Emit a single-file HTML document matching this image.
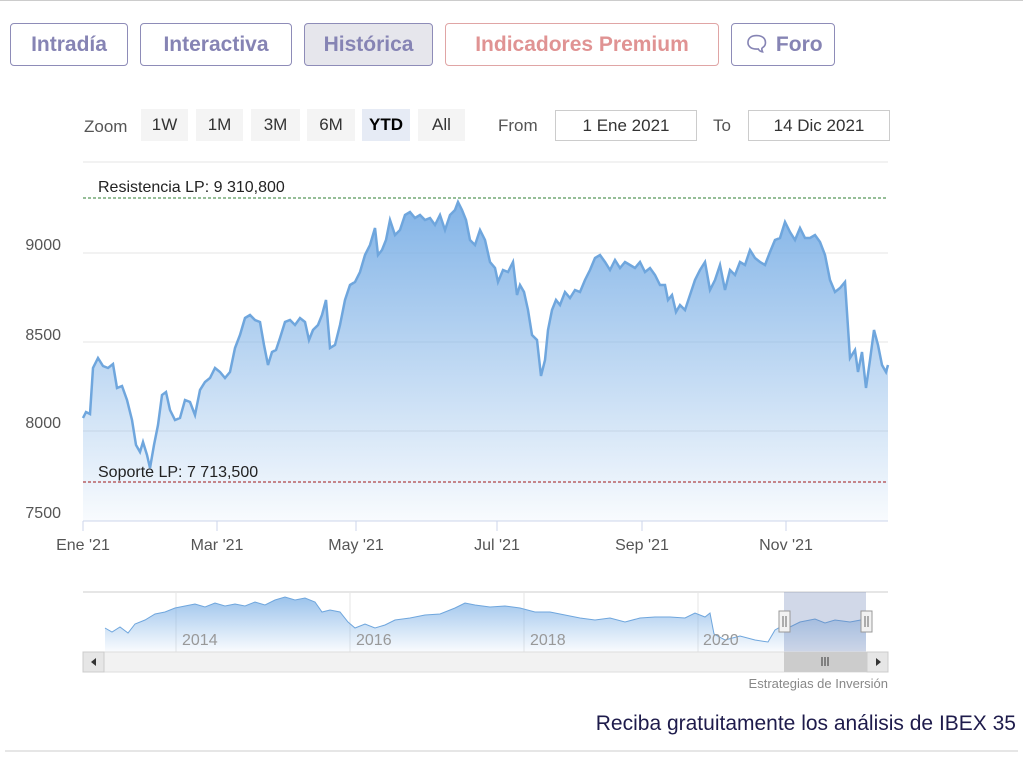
<!DOCTYPE html>
<html><head><meta charset="utf-8"><style>
body{margin:0;width:1023px;height:775px;background:#fff;position:relative;overflow:hidden;font-family:"Liberation Sans",sans-serif}
.b{position:absolute;top:23px;height:43px;border:1px solid #8e8cb8;border-radius:4px;box-sizing:border-box;font-weight:bold;font-size:21px;color:#8684b4;line-height:41px;text-align:center}
.a{position:absolute;font-size:17px;color:#555}
.z{position:absolute;top:109px;height:32px;background:#f4f4f4;font-size:17px;line-height:32px;text-align:center;color:#333}
.in{position:absolute;top:110px;height:31px;border:1px solid #ccc;box-sizing:border-box;font-size:17px;line-height:29px;text-align:center;color:#333}
</style></head><body>
<div style="position:absolute;left:0;top:0;width:1023px;height:1px;background:#ccc"></div>
<div class="b" style="left:10px;width:118px">Intradía</div>
<div class="b" style="left:140px;width:152px">Interactiva</div>
<div class="b" style="left:304px;width:129px;background:#e6e6ec">Histórica</div>
<div class="b" style="left:445px;width:274px;border-color:#e0a5a5;color:#e09393">Indicadores Premium</div>
<div class="b" style="left:731px;width:104px">&#x1F5E8; Foro</div>
<div class="a" style="left:84px;top:117px">Zoom</div>
<div class="z" style="left:141px;width:47px">1W</div>
<div class="z" style="left:196px;width:47px">1M</div>
<div class="z" style="left:251px;width:49px">3M</div>
<div class="z" style="left:307px;width:48px">6M</div>
<div class="z" style="left:362px;width:48px;background:#e6ebf5;font-weight:bold;color:#000">YTD</div>
<div class="z" style="left:418px;width:47px">All</div>
<div class="a" style="left:498px;top:116px">From</div>
<div class="in" style="left:555px;width:142px">1 Ene 2021</div>
<div class="a" style="left:713px;top:116px">To</div>
<div class="in" style="left:748px;width:142px">14 Dic 2021</div>
<svg style="position:absolute;left:0;top:0" width="1023" height="775">
<defs>
<linearGradient id="g" x1="0" y1="0" x2="0" y2="1"><stop offset="0" stop-color="#7cb0e6" stop-opacity=".95"/><stop offset="1" stop-color="#7cb0e6" stop-opacity=".05"/></linearGradient>
</defs>
<g stroke="#e6e6e6"><line x1="83" y1="162" x2="888" y2="162"/><line x1="83" y1="253" x2="888" y2="253"/><line x1="83" y1="342" x2="888" y2="342"/><line x1="83" y1="431" x2="888" y2="431"/></g>
<polygon fill="url(#g)" points="83,521 83,418 86,412 90,414 93,368 98,358 103,366 108,368 113,364 117,388 122,386 127,400 132,420 136,445 140,452 143,442 147,455 150,468 154,445 158,425 162,395 166,392 170,410 175,420 180,418 185,400 190,402 195,415 200,390 205,382 210,378 215,368 220,372 225,378 230,372 235,348 240,335 245,318 250,315 255,320 260,322 264,345 268,365 272,352 276,350 280,338 285,322 290,320 295,325 300,318 305,322 309,340 313,330 318,325 322,315 326,300 330,348 335,345 340,325 345,300 350,285 355,282 360,272 365,255 370,245 375,228 378,255 382,250 386,240 390,220 395,235 400,230 405,215 410,212 415,218 420,215 425,220 430,218 435,225 440,215 445,230 450,215 455,210 458,202 462,210 466,220 470,240 475,245 480,230 485,240 490,262 495,268 498,282 503,270 508,272 513,262 517,295 520,285 524,292 528,310 532,335 537,340 541,376 545,360 548,330 552,310 556,300 560,305 565,292 570,298 575,290 580,292 585,280 590,270 595,258 600,255 605,262 610,270 615,260 620,268 625,262 630,265 635,268 640,262 645,272 650,268 655,275 660,285 665,285 668,300 672,295 676,312 680,305 685,310 690,295 695,280 700,270 705,262 710,290 715,280 720,265 725,290 730,270 735,275 740,262 745,265 750,250 755,258 760,262 765,265 770,252 775,240 780,238 785,222 790,232 795,240 800,228 805,238 810,238 815,235 820,242 825,255 830,280 835,292 840,288 845,282 850,358 855,350 858,372 862,352 866,388 870,360 874,330 878,345 882,365 886,372 888,365 888,521"/>
<polyline fill="none" stroke="#6fa6dd" stroke-width="2.5" points="83,418 86,412 90,414 93,368 98,358 103,366 108,368 113,364 117,388 122,386 127,400 132,420 136,445 140,452 143,442 147,455 150,468 154,445 158,425 162,395 166,392 170,410 175,420 180,418 185,400 190,402 195,415 200,390 205,382 210,378 215,368 220,372 225,378 230,372 235,348 240,335 245,318 250,315 255,320 260,322 264,345 268,365 272,352 276,350 280,338 285,322 290,320 295,325 300,318 305,322 309,340 313,330 318,325 322,315 326,300 330,348 335,345 340,325 345,300 350,285 355,282 360,272 365,255 370,245 375,228 378,255 382,250 386,240 390,220 395,235 400,230 405,215 410,212 415,218 420,215 425,220 430,218 435,225 440,215 445,230 450,215 455,210 458,202 462,210 466,220 470,240 475,245 480,230 485,240 490,262 495,268 498,282 503,270 508,272 513,262 517,295 520,285 524,292 528,310 532,335 537,340 541,376 545,360 548,330 552,310 556,300 560,305 565,292 570,298 575,290 580,292 585,280 590,270 595,258 600,255 605,262 610,270 615,260 620,268 625,262 630,265 635,268 640,262 645,272 650,268 655,275 660,285 665,285 668,300 672,295 676,312 680,305 685,310 690,295 695,280 700,270 705,262 710,290 715,280 720,265 725,290 730,270 735,275 740,262 745,265 750,250 755,258 760,262 765,265 770,252 775,240 780,238 785,222 790,232 795,240 800,228 805,238 810,238 815,235 820,242 825,255 830,280 835,292 840,288 845,282 850,358 855,350 858,372 862,352 866,388 870,360 874,330 878,345 882,365 886,372 888,365"/>
<line x1="83" y1="198" x2="888" y2="198" stroke="#2e7d32" stroke-dasharray="3,2"/>
<line x1="83" y1="482" x2="888" y2="482" stroke="#a01818" stroke-dasharray="3,2"/>
<line x1="83" y1="521" x2="888" y2="521" stroke="#ccd6eb"/>
<g stroke="#ccd6eb"><line x1="83" y1="521" x2="83" y2="531"/><line x1="217" y1="521" x2="217" y2="531"/><line x1="356" y1="521" x2="356" y2="531"/><line x1="497" y1="521" x2="497" y2="531"/><line x1="642" y1="521" x2="642" y2="531"/><line x1="786" y1="521" x2="786" y2="531"/></g>
<g font-family="Liberation Sans" font-size="16" fill="#222">
<text x="98" y="192">Resistencia LP: 9 310,800</text>
<text x="98" y="477">Soporte LP: 7 713,500</text>
</g>
<g font-family="Liberation Sans" font-size="16" fill="#555" text-anchor="end">
<text x="61" y="250">9000</text><text x="61" y="340">8500</text><text x="61" y="428">8000</text><text x="61" y="518">7500</text>
</g>
<g font-family="Liberation Sans" font-size="16" fill="#555" text-anchor="middle">
<text x="83" y="550">Ene '21</text><text x="217" y="550">Mar '21</text><text x="356" y="550">May '21</text><text x="497" y="550">Jul '21</text><text x="642" y="550">Sep '21</text><text x="786" y="550">Nov '21</text>
</g>
<line x1="83" y1="592" x2="888" y2="592" stroke="#ccc"/>
<g stroke="#e6e6e6"><line x1="176" y1="592" x2="176" y2="652"/><line x1="350" y1="592" x2="350" y2="652"/><line x1="524" y1="592" x2="524" y2="652"/><line x1="698" y1="592" x2="698" y2="652"/></g>
<polygon fill="url(#g)" opacity=".8" points="105,652 105,628 112,632 120,627 128,633 135,624 145,620 155,614 165,612 175,608 185,606 195,604 205,607 215,603 225,606 235,604 245,606 255,602 265,605 275,600 285,597 295,600 305,598 315,602 322,612 330,610 340,612 348,622 355,628 365,624 375,628 385,625 395,620 410,618 425,615 440,614 455,608 465,603 475,605 490,607 505,606 520,608 535,612 550,612 565,615 580,618 595,620 610,618 625,622 640,618 655,617 670,617 685,618 695,613 705,617 710,613 714,634 725,640 740,636 755,640 768,642 775,630 782,626 790,627 800,622 815,619 825,623 835,620 850,622 866,619 866,652"/>
<polyline fill="none" stroke="#6fa6dd" points="105,628 112,632 120,627 128,633 135,624 145,620 155,614 165,612 175,608 185,606 195,604 205,607 215,603 225,606 235,604 245,606 255,602 265,605 275,600 285,597 295,600 305,598 315,602 322,612 330,610 340,612 348,622 355,628 365,624 375,628 385,625 395,620 410,618 425,615 440,614 455,608 465,603 475,605 490,607 505,606 520,608 535,612 550,612 565,615 580,618 595,620 610,618 625,622 640,618 655,617 670,617 685,618 695,613 705,617 710,613 714,634 725,640 740,636 755,640 768,642 775,630 782,626 790,627 800,622 815,619 825,623 835,620 850,622 866,619"/>
<g font-family="Liberation Sans" font-size="16" fill="#999"><text x="182" y="645">2014</text><text x="356" y="645">2016</text><text x="530" y="645">2018</text><text x="703" y="645">2020</text></g>
<rect x="784" y="592" width="82" height="60" fill="#667db3" opacity=".3"/>
<rect x="83" y="652" width="805" height="20" fill="#f2f2f2" stroke="#ddd"/>
<rect x="83" y="652" width="21" height="20" fill="#e6e6e6" stroke="#ccc"/>
<rect x="867" y="652" width="21" height="20" fill="#e6e6e6" stroke="#ccc"/>
<rect x="784" y="652" width="83" height="20" fill="#ccc"/>
<path d="M96,658 L91,662 L96,666Z M876,658 L881,662 L876,666Z" fill="#333"/>
<g stroke="#333"><line x1="822" y1="657" x2="822" y2="666"/><line x1="825" y1="657" x2="825" y2="666"/><line x1="828" y1="657" x2="828" y2="666"/></g>
<rect x="779" y="611" width="11" height="21" fill="#f2f2f2" stroke="#999"/>
<rect x="861" y="611" width="11" height="21" fill="#f2f2f2" stroke="#999"/>
<g stroke="#666"><line x1="783" y1="616" x2="783" y2="627"/><line x1="786" y1="616" x2="786" y2="627"/><line x1="865" y1="616" x2="865" y2="627"/><line x1="868" y1="616" x2="868" y2="627"/></g>
<text x="888" y="688" text-anchor="end" font-family="Liberation Sans" font-size="13" fill="#888">Estrategias de Inversión</text>
<text x="1016" y="730" text-anchor="end" font-family="Liberation Sans" font-size="21" fill="#1e1b4b">Reciba gratuitamente los análisis de IBEX 35</text>
<line x1="5" y1="751" x2="1018" y2="751" stroke="#ccc"/>
</svg>
</body></html>
